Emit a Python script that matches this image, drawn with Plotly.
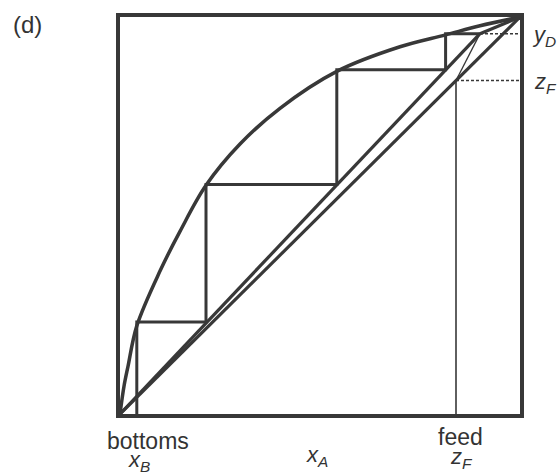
import plotly.graph_objects as go

# Equilibrium curve
eq_x = [0.0, 0.01, 0.02, 0.042, 0.1, 0.15, 0.215, 0.3, 0.4, 0.542, 0.7, 0.814, 0.9, 1.0]
eq_y = [0.0, 0.07, 0.12, 0.222, 0.36, 0.46, 0.576, 0.68, 0.77, 0.863, 0.925, 0.955, 0.978, 1.0]

# Diagonal y = x
diag_x = [0.0, 1.0]
diag_y = [0.0, 1.0]

# Operating lines
strip_x = [0.0, 0.9]
strip_y = [0.0, 0.958]
rect_x = [0.9, 1.0]
rect_y = [0.958, 1.0]

# q-line (thin)
q_x = [0.84, 0.9]
q_y = [0.84, 0.958]

# Staircase
step_x = [0.9, 0.814, 0.814, 0.542, 0.542, 0.215, 0.215, 0.042, 0.042]
step_y = [0.958, 0.958, 0.867, 0.867, 0.578, 0.578, 0.232, 0.232, 0.0]

# Feed vertical (thin)
feed_x = [0.84, 0.84]
feed_y = [0.0, 0.84]

# Dashed guides
zf_dash_x = [0.84, 1.0]
zf_dash_y = [0.84, 0.84]
yd_dash_x = [0.9, 1.0]
yd_dash_y = [0.958, 0.958]

LC = "#383838"
fig = go.Figure()

def add(x, y, w, dash="solid", shape="linear"):
    fig.add_trace(go.Scatter(x=x, y=y, mode="lines",
                             line=dict(color=LC, width=w, dash=dash, shape=shape),
                             hoverinfo="skip", showlegend=False, cliponaxis=False))

add(eq_x, eq_y, 3.5, shape="spline")
add(diag_x, diag_y, 3.2)
add(strip_x, strip_y, 3.2)
add(rect_x, rect_y, 3.2)
add(step_x, step_y, 3.0)
add(q_x, q_y, 1.3)
add(feed_x, feed_y, 1.6)
add(zf_dash_x, zf_dash_y, 1.5, dash="3px,2px")
add(yd_dash_x, yd_dash_y, 1.5, dash="3px,2px")

W, H = 557, 474
# plot area in page pixels
L, R, T, B = 120, 520, 17, 414
def px(xp):
    return (xp - L) / (R - L)
def py(yp):
    return (B - yp) / (B - T)

FONT = "Liberation Sans, Arial, sans-serif"
TC = "#333333"
anns = [
    ("(d)", 27, 25, 24),
    ("bottoms", 148, 441, 23),
    ("<i>x</i><sub><i>B</i></sub>", 139, 461, 22),
    ("<i>x</i><sub><i>A</i></sub>", 317, 456, 22),
    ("feed", 460, 437, 23),
    ("<i>z</i><sub><i>F</i></sub>", 461, 458, 22),
    ("<i>y</i><sub><i>D</i></sub>", 544, 36, 22),
    ("<i>z</i><sub><i>F</i></sub>", 545, 83, 22),
]
annotations = [dict(text=t, x=px(x), y=py(y), xref="paper", yref="paper",
                    xanchor="center", yanchor="middle", showarrow=False,
                    font=dict(family=FONT, size=s, color=TC))
               for t, x, y, s in anns]

fig.update_layout(
    width=W, height=H,
    margin=dict(l=L, r=W - R, t=T, b=H - B, pad=0),
    paper_bgcolor="white", plot_bgcolor="white",
    annotations=annotations,
    hovermode=False,
    xaxis=dict(range=[0, 1], showgrid=False, zeroline=False, showticklabels=False,
               ticks="", showline=True, linecolor=LC, linewidth=4, mirror=True),
    yaxis=dict(range=[0, 1], showgrid=False, zeroline=False, showticklabels=False,
               ticks="", showline=True, linecolor=LC, linewidth=4, mirror=True),
)

fig.write_html("out.html", config={"displayModeBar": False},
               post_script="document.body.style.margin='0';document.body.style.overflow='hidden';")
